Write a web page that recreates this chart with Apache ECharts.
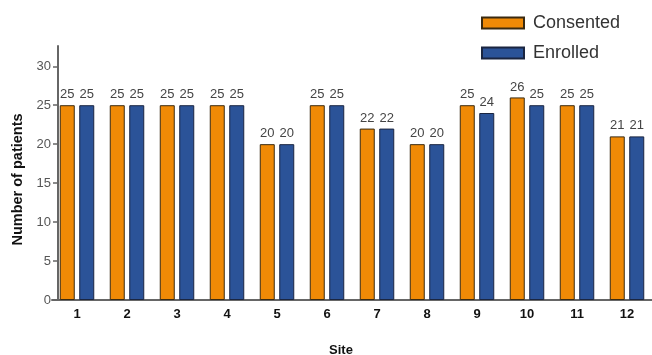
<!DOCTYPE html>
<html>
<head>
<meta charset="utf-8">
<script src="https://cdn.jsdelivr.net/npm/echarts@6/dist/echarts.min.js"></script>
<style>
  html, body { margin: 0; padding: 0; background: #fff; }
  #chart { width: 652px; height: 355px; }
</style>
</head>
<body>
<div id="chart"></div>
<script>
// Patients per site
const sites = ['1', '2', '3', '4', '5', '6', '7', '8', '9', '10', '11', '12'];
const consented = [25, 25, 25, 25, 20, 25, 22, 20, 25, 26, 25, 21];
const enrolled = [25, 25, 25, 25, 20, 25, 22, 20, 24, 25, 25, 21];
const yTicks = [0, 5, 10, 15, 20, 25, 30];

const chart = echarts.init(document.getElementById('chart'), null, { renderer: 'canvas' });

const labelStyle = {
  show: true,
  position: 'top',
  distance: 4,
  color: '#444',
  fontFamily: 'Liberation Sans, Arial, sans-serif',
  fontSize: 13
};

chart.setOption({
  animation: false,
  backgroundColor: '#fff',
  grid: { left: 52, right: 0, top: 46, bottom: 55, outerBoundsMode: 'none', containLabel: false },
  legend: {
    orient: 'vertical',
    left: 476,
    top: 9,
    icon: 'rect',
    itemWidth: 42,
    itemHeight: 11,
    itemGap: 12,
    textStyle: { fontFamily: 'Liberation Sans, Arial, sans-serif', fontSize: 18, color: '#333', padding: [0, 0, 0, 4] },
    data: ['Consented', 'Enrolled']
  },
  xAxis: {
    type: 'category',
    data: sites,
    name: 'Site',
    nameLocation: 'middle',
    nameGap: 44,
    nameTextStyle: { fontFamily: 'Liberation Sans, Arial, sans-serif', fontSize: 13, fontWeight: 'bold', color: '#111', padding: [0, 22, 0, 0] },
    axisLine: { lineStyle: { color: '#666', width: 2 } },
    axisTick: { show: false },
    axisLabel: { fontFamily: 'Liberation Sans, Arial, sans-serif', fontSize: 13, fontWeight: 'bold', color: '#111', margin: 8 }
  },
  yAxis: {
    type: 'value',
    min: 0,
    max: 32.6,
    interval: 5,
    offset: -6,
    name: 'Number of patients',
    nameLocation: 'middle',
    nameGap: 23,
    nameTextStyle: { fontFamily: 'Liberation Sans, Arial, sans-serif', fontSize: 14.5, fontWeight: 'bold', color: '#111', padding: [0, 13, 0, 0] },
    splitLine: { show: false },
    axisLine: { show: true, lineStyle: { color: '#666', width: 2 } },
    axisTick: { show: true, length: 5, customValues: yTicks, lineStyle: { color: '#666', width: 1.5 } },
    axisLabel: { customValues: yTicks, fontFamily: 'Liberation Sans, Arial, sans-serif', fontSize: 13, color: '#555', margin: 7 }
  },
  series: [
    {
      name: 'Consented',
      type: 'bar',
      data: consented,
      barWidth: 15,
      barGap: '30%',
      itemStyle: { color: '#f08a06', borderColor: '#3a2a10', borderWidth: 1 },
      label: labelStyle
    },
    {
      name: 'Enrolled',
      type: 'bar',
      data: enrolled,
      barWidth: 15,
      itemStyle: { color: '#2b5398', borderColor: '#1a2540', borderWidth: 1 },
      label: labelStyle
    }
  ]
});
</script>
</body>
</html>
